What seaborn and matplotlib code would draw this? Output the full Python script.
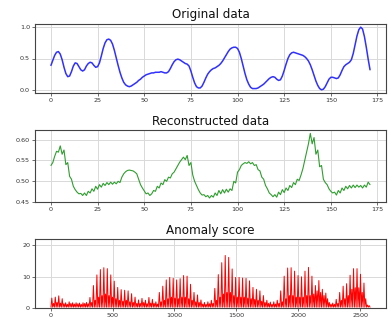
import numpy as np
import pandas as pd
import matplotlib
matplotlib.use("Agg")
import matplotlib.pyplot as plt
import seaborn as sns

# ---------------- data ----------------
original = [
    0.39, 0.47, 0.55, 0.60, 0.61, 0.57, 0.48, 0.36, 0.26, 0.21,
    0.22, 0.29, 0.38, 0.43, 0.42, 0.37, 0.32, 0.30, 0.32, 0.38,
    0.42, 0.44, 0.43, 0.39, 0.36, 0.37, 0.43, 0.54, 0.66, 0.75,
    0.80, 0.81, 0.79, 0.73, 0.63, 0.51, 0.39, 0.28, 0.19, 0.12,
    0.08, 0.06, 0.05, 0.06, 0.08, 0.10, 0.12, 0.15, 0.17, 0.20,
    0.22, 0.24, 0.25, 0.26, 0.27, 0.27, 0.28, 0.28, 0.28, 0.29,
    0.28, 0.27, 0.27, 0.29, 0.34, 0.40, 0.45, 0.48, 0.49, 0.48,
    0.46, 0.44, 0.42, 0.41, 0.38, 0.30, 0.20, 0.11, 0.05, 0.03,
    0.03, 0.06, 0.12, 0.19, 0.25, 0.29, 0.32, 0.34, 0.35, 0.37,
    0.39, 0.42, 0.46, 0.51, 0.56, 0.61, 0.65, 0.67, 0.68, 0.68,
    0.66, 0.60, 0.50, 0.38, 0.26, 0.16, 0.09, 0.04, 0.02, 0.02,
    0.02, 0.03, 0.05, 0.07, 0.09, 0.12, 0.15, 0.18, 0.20, 0.21,
    0.20, 0.17, 0.15, 0.16, 0.22, 0.31, 0.41, 0.50, 0.56, 0.59,
    0.60, 0.59, 0.58, 0.57, 0.56, 0.55, 0.53, 0.50, 0.46, 0.40,
    0.32, 0.23, 0.14, 0.07, 0.02, 0.00, 0.01, 0.05, 0.11, 0.17,
    0.20, 0.20, 0.19, 0.18, 0.19, 0.24, 0.31, 0.37, 0.40, 0.42,
    0.44, 0.48, 0.58, 0.72, 0.86, 0.96, 1.00, 0.97, 0.85, 0.68,
    0.49, 0.32,
]

reconstructed = [
    0.538, 0.545, 0.560, 0.572, 0.570, 0.585, 0.565, 0.575, 0.540, 0.545,
    0.512, 0.505, 0.488, 0.480, 0.474, 0.470, 0.471, 0.466, 0.472, 0.466,
    0.476, 0.472, 0.482, 0.476, 0.488, 0.481, 0.492, 0.486, 0.495, 0.490,
    0.497, 0.492, 0.498, 0.493, 0.498, 0.494, 0.500, 0.497, 0.510, 0.518,
    0.523, 0.526, 0.527, 0.526, 0.525, 0.522, 0.518, 0.505, 0.492, 0.484,
    0.477, 0.470, 0.472, 0.466, 0.470, 0.478, 0.476, 0.488, 0.484, 0.496,
    0.492, 0.504, 0.500, 0.510, 0.508, 0.518, 0.522, 0.530, 0.538, 0.546,
    0.552, 0.558, 0.552, 0.562, 0.538, 0.545, 0.515, 0.500, 0.490, 0.480,
    0.472, 0.467, 0.468, 0.463, 0.466, 0.460, 0.466, 0.462, 0.472, 0.466,
    0.478, 0.470, 0.480, 0.472, 0.481, 0.474, 0.482, 0.478, 0.500, 0.496,
    0.522, 0.528, 0.538, 0.542, 0.545, 0.543, 0.547, 0.542, 0.545, 0.538,
    0.540, 0.528, 0.525, 0.510, 0.505, 0.490, 0.482, 0.472, 0.468, 0.463,
    0.468, 0.462, 0.474, 0.468, 0.480, 0.473, 0.484, 0.478, 0.490, 0.485,
    0.497, 0.492, 0.505, 0.502, 0.515, 0.530, 0.550, 0.570, 0.590, 0.615,
    0.590, 0.605, 0.565, 0.575, 0.535, 0.538, 0.505, 0.497, 0.492, 0.482,
    0.476, 0.472, 0.474, 0.467, 0.478, 0.472, 0.484, 0.478, 0.488, 0.482,
    0.490, 0.484, 0.491, 0.485, 0.491, 0.486, 0.490, 0.484, 0.491, 0.486,
    0.498, 0.492,
]

# anomaly score: main spike heights and minor spike heights per 28-sample period
anomaly_main = [
    3.2, 3.5, 3.9, 3.0, 1.7, 2.0, 1.7, 1.7, 1.6, 1.7, 1.8, 3.4,
    7.2, 10.6, 12.3, 12.9, 12.6, 10.6, 8.6, 6.6, 5.9, 5.7, 5.5, 4.6, 3.5,
    2.6, 3.1, 2.5, 3.4, 2.8, 2.0,
    5.0, 7.0, 9.0, 9.8, 9.5, 9.0, 9.4, 10.4, 10.2, 7.6, 5.0, 4.2,
    2.6, 1.8, 2.0, 2.5,
    6.3, 10.7, 14.5, 16.8, 16.2, 12.5, 9.8, 9.8, 9.6, 9.5, 8.7, 6.6, 6.0, 5.5, 4.0, 2.5,
    1.9, 2.0, 2.5,
    5.5, 10.2, 12.8, 12.9, 11.8, 10.4, 10.0, 11.8, 13.0, 10.2, 7.2, 8.8, 6.0, 4.8,
    1.8, 1.6, 2.8,
    5.0, 7.0, 7.8, 10.5, 12.6, 12.6, 10.8, 8.0, 1.0,
]
anomaly_minor = [
    1.5, 1.8, 1.6, 1.4, 1.2, 1.5, 1.3, 1.4, 1.2, 1.5, 1.4, 1.8,
    2.5, 3.5, 4.0, 4.5, 4.0, 3.5, 3.0, 2.5, 2.2, 2.5, 2.0, 1.8, 1.5,
    1.5, 1.8, 1.4, 1.6, 1.5, 1.3,
    2.0, 2.5, 3.0, 3.5, 3.2, 3.0, 3.5, 3.5, 3.0, 2.5, 2.0, 1.8,
    1.3, 1.2, 1.4, 1.5,
    2.5, 3.5, 4.5, 5.0, 5.0, 4.0, 3.5, 3.5, 3.5, 3.2, 3.0, 2.8, 2.5, 2.2, 1.8, 1.5,
    1.2, 1.3, 1.5,
    2.0, 3.0, 4.0, 4.0, 3.5, 3.5, 3.5, 4.0, 4.0, 4.5, 5.5, 5.0, 4.0, 3.0,
    1.3, 1.2, 1.5,
    2.5, 3.0, 4.0, 6.0, 6.5, 6.5, 5.0, 3.0, 0.8,
]
anomaly_floor = 0.3
anomaly_period = 28
anomaly_length = 2580

# ---------------- build tables ----------------
df_orig = pd.DataFrame({"t": np.arange(len(original)), "v": original})
df_rec = pd.DataFrame({"t": np.arange(len(reconstructed)), "v": reconstructed})

ax_x, ax_y = [], []
for k, (hm, hn) in enumerate(zip(anomaly_main, anomaly_minor)):
    base = k * anomaly_period
    ax_x += [base + 3, base + 10, base + 17, base + 24]
    ax_y += [anomaly_floor, hm, anomaly_floor, hn]
ax_x += [anomaly_length - 1]
ax_y += [anomaly_floor]
df_an = pd.DataFrame({"t": ax_x, "v": ax_y})

# ---------------- style ----------------
sns.set_theme(style="whitegrid")
plt.rcParams["font.family"] = ["DejaVu Sans"]
plt.rcParams["axes.edgecolor"] = "#444444"
plt.rcParams["axes.linewidth"] = 0.8
plt.rcParams["grid.color"] = "#d9d9d9"
plt.rcParams["grid.linewidth"] = 0.7

fig = plt.figure(figsize=(3.9, 3.25), dpi=100)
fig.patch.set_facecolor("white")

ax1 = fig.add_axes([0.0897, 0.714, 0.900, 0.212])
ax2 = fig.add_axes([0.0897, 0.378, 0.900, 0.2215])
ax3 = fig.add_axes([0.0897, 0.052, 0.900, 0.212])

sns.lineplot(data=df_orig, x="t", y="v", ax=ax1, color="#3030ff", linewidth=1.1, estimator=None)
sns.lineplot(data=df_rec, x="t", y="v", ax=ax2, color="#2e9e2e", linewidth=0.8, estimator=None)
sns.lineplot(data=df_an, x="t", y="v", ax=ax3, color="#ff0000", linewidth=0.7, estimator=None)

titles = ["Original data", "Reconstructed data", "Anomaly score"]
for ax, title in zip([ax1, ax2, ax3], titles):
    ax.set_title(title, fontsize=9.5, fontstretch="condensed", pad=4, color="#111111")
    ax.set_xlabel("")
    ax.set_ylabel("")
    ax.tick_params(axis="both", labelsize=4.6, length=2, width=0.5, pad=1.5,
                   colors="#333333", bottom=True, left=True)
    for sp in ax.spines.values():
        sp.set_color("#444444")
        sp.set_linewidth(0.8)

ax1.set_xticks([0, 25, 50, 75, 100, 125, 150, 175])
ax1.set_yticks([0.0, 0.5, 1.0])
ax1.set_yticklabels(["0.0", "0.5", "1.0"])
ax2.set_xticks([0, 25, 50, 75, 100, 125, 150, 175])
ax2.set_yticks([0.45, 0.50, 0.55, 0.60])
ax2.set_yticklabels(["0.45", "0.50", "0.55", "0.60"])
ax3.set_xticks([0, 500, 1000, 1500, 2000, 2500])
ax3.set_yticks([0, 10, 20])
ax3.set_ylim(0, 22)

fig.savefig("out.png", dpi=100, facecolor="white")
